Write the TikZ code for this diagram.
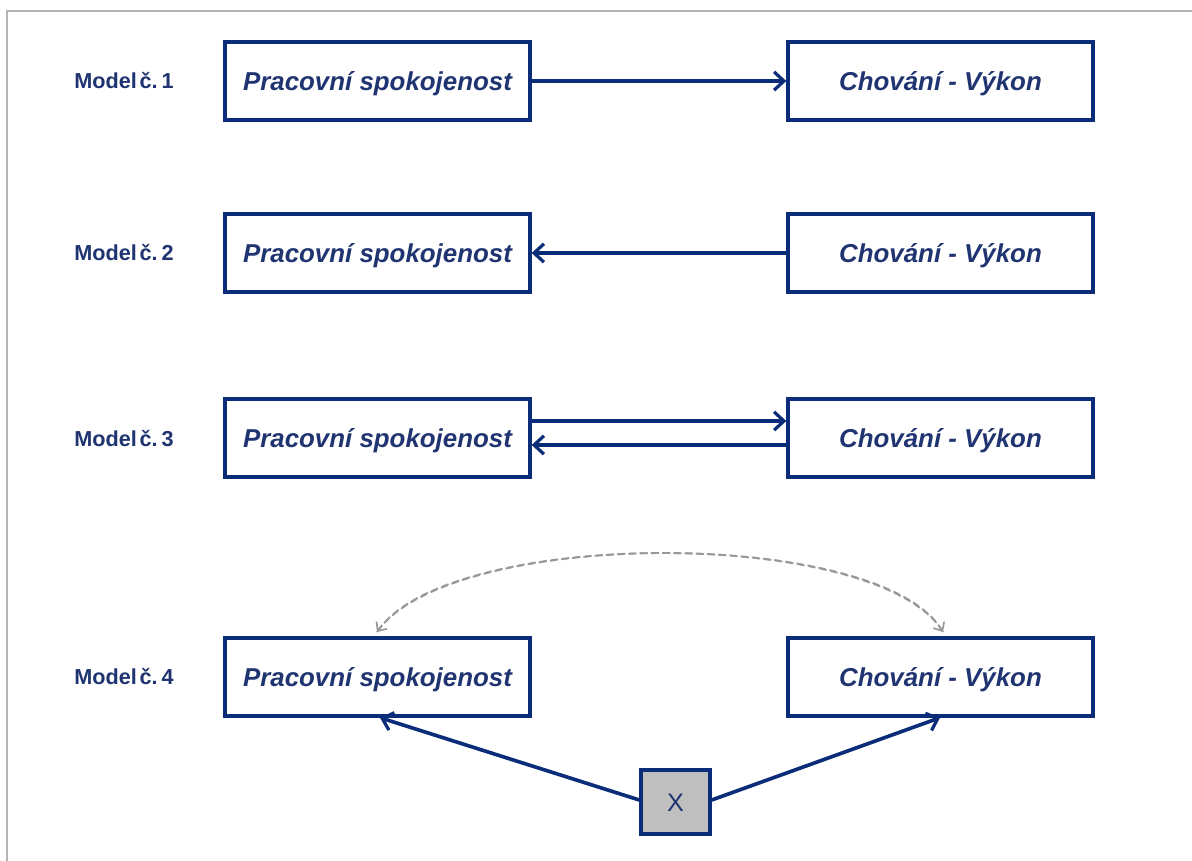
\documentclass[tikz,border=0pt]{standalone}
\usepackage{fontspec}
\setmainfont{Liberation Sans}
\usetikzlibrary{arrows.meta}
\definecolor{navy}{HTML}{0B2C78}
\definecolor{txtblue}{HTML}{1F3470}
\definecolor{framegray}{HTML}{B4B4B4}
\newcommand{\modellabel}[1]{Model\hspace{0.12em}č.\hspace{0.18em}#1}
\tikzset{
  box/.style={draw=navy, line width=2.4pt, minimum width=305*0.025cm, minimum height=78*0.025cm,
    inner sep=0pt, font=\fontsize{18.4}{20}\selectfont\bfseries\itshape, text=txtblue,
    text height=13.2pt, text depth=0pt},
  lbl/.style={font=\fontsize{15.4}{17}\selectfont\bfseries, text=txtblue, inner sep=0pt,
    text height=11pt, text depth=0pt},
  link/.style={draw=navy, line width=2.6pt, -{Straight Barb[length=7pt,width=13pt,line width=2.3pt]}},
  influence/.style={draw=gray!80, line width=1.3pt, dash pattern=on 5pt off 3pt,
    -{Straight Barb[length=5pt,width=9pt,line width=1.2pt]}}
}
\begin{document}
\begin{tikzpicture}[x=0.025cm, y=-0.025cm]
  \useasboundingbox (0,0) rectangle (1192,861);
  % frame edges
  \draw[framegray, line width=1.6pt] (7,861) -- (7,11) -- (1192,11);

  % row labels
  \node[lbl] (m1) at (124,81) {\modellabel{1}};
  \node[lbl] (m2) at (124,253) {\modellabel{2}};
  \node[lbl] (m3) at (124,439) {\modellabel{3}};
  \node[lbl] (m4) at (124,677) {\modellabel{4}};

  % model 1
  \node[box] (p1) at (377.5,81) {Pracovní spokojenost};
  \node[box] (c1) at (940.5,81) {Chování - Výkon};
  \draw[link] (p1) -- (c1);

  % model 2
  \node[box] (p2) at (377.5,253) {Pracovní spokojenost};
  \node[box] (c2) at (940.5,253) {Chování - Výkon};
  \draw[link] (c2) -- (p2);

  % model 3
  \node[box] (p3) at (377.5,438) {Pracovní spokojenost};
  \node[box] (c3) at (940.5,438) {Chování - Výkon};
  \draw[link] (p3.east |- 0,421) -- (c3.west |- 0,421);
  \draw[link] (c3.west |- 0,445) -- (p3.east |- 0,445);

  % model 4
  \node[box] (p4) at (377.5,677) {Pracovní spokojenost};
  \node[box] (c4) at (940.5,677) {Chování - Výkon};
  \node[draw=navy, line width=2.4pt, fill=gray!50, minimum width=69*0.025cm, minimum height=64*0.025cm,
    inner sep=0pt, font=\fontsize{18}{20}\selectfont, text=txtblue,
    text height=12.9pt, text depth=0pt] (x) at (675.5,802) {X};
  \draw[link] (x.west |- 0,800) -- (p4.south -| 380,0);
  \draw[link] (x.east |- 0,800) -- (c4.south -| 940,0);
  \coordinate (dl) at (377,632);
  \coordinate (dr) at (943,632);
  \draw[influence] (dr) .. controls (880,527) and (450,527) .. (dl);
  \draw[influence] (dl) .. controls (450,527) and (880,527) .. (dr);
\end{tikzpicture}
\end{document}
